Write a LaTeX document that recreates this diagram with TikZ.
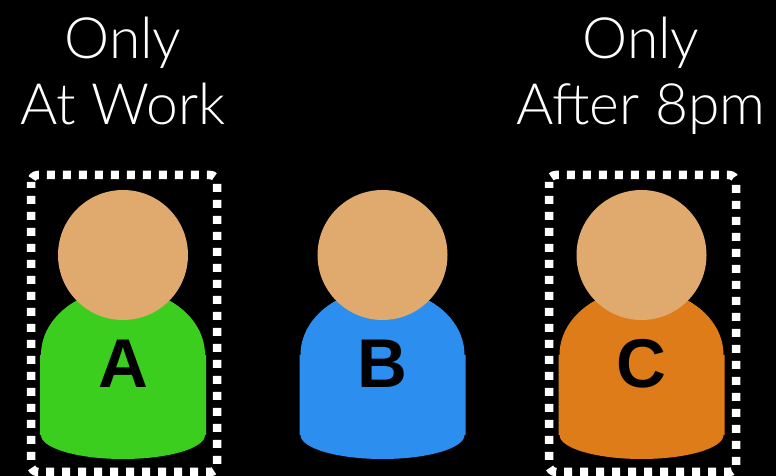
\documentclass[tikz,border=0pt]{standalone}
\usepackage{xcolor}
\usepackage{fontspec}
\usepackage{tikz}
\setmainfont{Lato}[UprightFont=*-Light]
\newfontfamily\lblfont{Liberation Sans}[Scale=1]
\definecolor{skinc}{HTML}{E0AA6E}
\definecolor{grnc}{HTML}{3BCE1F}
\definecolor{bluc}{HTML}{2C8FF0}
\definecolor{orgc}{HTML}{DE7C1A}
\tikzset{
  hd/.style={circle,fill=skinc,minimum size=130pt,inner sep=0pt},
  lbl/.style={font=\lblfont\bfseries\fontsize{69}{69}\selectfont,text=black,inner sep=0pt,anchor=base},
  ttl/.style={font=\fontsize{57}{66}\selectfont,text=white,align=center,inner sep=0pt,anchor=base},
  dots/.style={draw=white,line width=8.5pt,dash pattern=on 8pt off 8pt,dash phase=2pt,rounded corners=7pt}
}
\begin{document}
\begin{tikzpicture}[x=1pt,y=1pt]
\fill[black] (0,0) rectangle (776,476);
\useasboundingbox (0,0) rectangle (776,476);
\foreach \x/\n/\c in {123/A/grnc,382.5/B/bluc,641.5/C/orgc}{
 \fill[\c] (\x-82,121) arc[start angle=180,end angle=0,x radius=82,y radius=66] -- (\x+83,121) -- (\x+83,41) -- (\x+82,41)
   arc[start angle=360,end angle=180,x radius=82,y radius=24] -- (\x-83,41) -- (\x-83,121) -- cycle;
 \node[hd] (hd\n) at (\x,221) {};
 \node[lbl] (lbl\n) at (\x,88) {\n};}
\draw[dots] (31,301) rectangle (217,4);
\draw[dots] (549,301) rectangle (736,4);
\node[ttl] (onlyA) at (123,417) {Only};
\node[ttl] (workA) at (123,351) {At Work};
\node[ttl] (onlyC) at (641,417) {Only};
\node[ttl] (timeC) at (641,351) {After 8pm};
\end{tikzpicture}
\end{document}
